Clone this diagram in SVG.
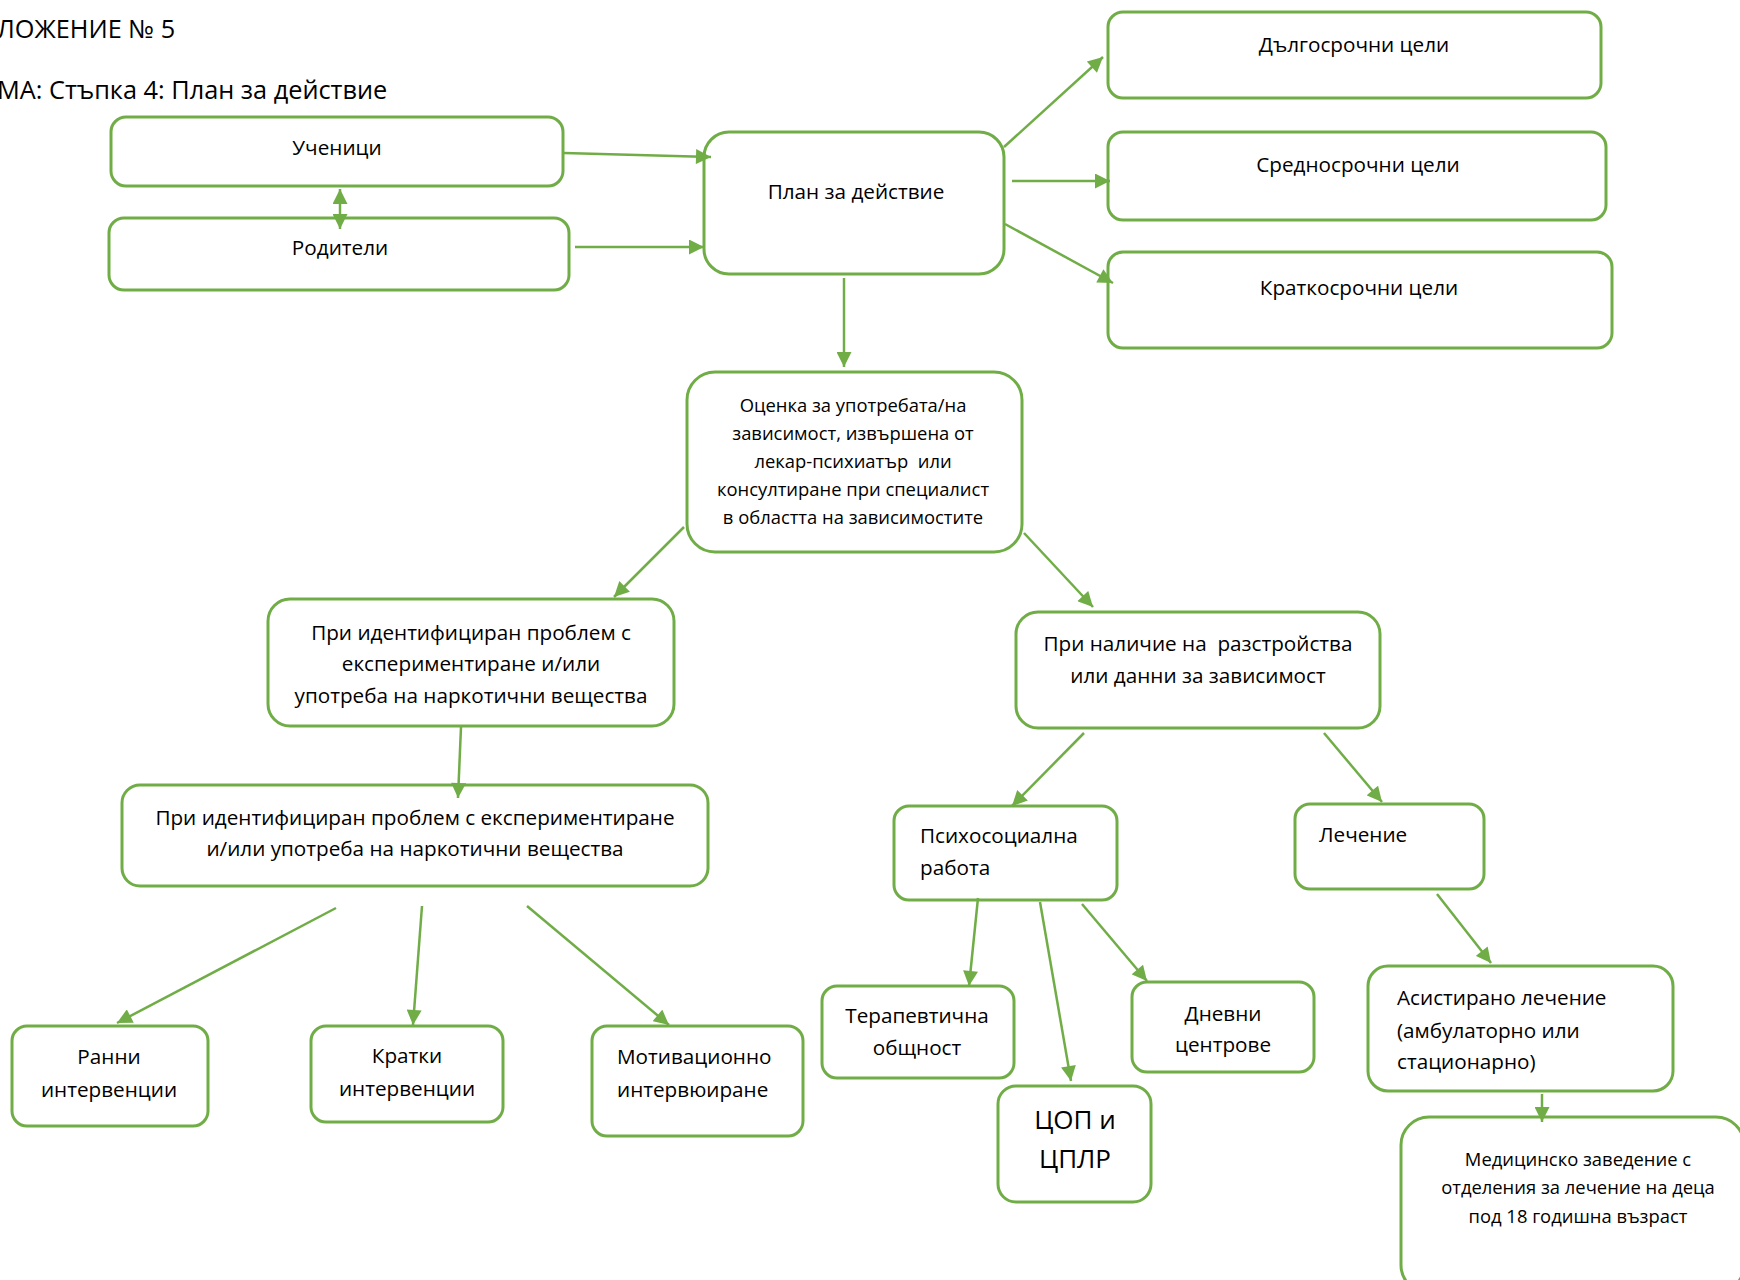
<svg xmlns="http://www.w3.org/2000/svg" width="1740" height="1280" viewBox="0 0 1740 1280">
<style>
.n{fill:#fff;stroke:#70AD47;stroke-width:3}
.c{fill:none;stroke:#70AD47;stroke-width:2.5;marker-end:url(#ah)}
text{font-family:"Open Sans","Noto Sans","DejaVu Sans",sans-serif;fill:#000}
.t{font-size:20.7px}
.m{text-anchor:middle}
.s{font-size:18.4px}
.b{font-size:26px}
.h{font-size:25.3px}
</style>
<defs>
<marker id="ah" viewBox="0 0 10 10" refX="10" refY="5" markerWidth="16" markerHeight="15" markerUnits="userSpaceOnUse" orient="auto-start-reverse">
<path d="M0,0 L10,5 L0,10 z" fill="#70AD47"/>
</marker>
</defs>
<rect width="1740" height="1280" fill="#fff"/>
<text class="h" x="-3" y="38">ЛОЖЕНИЕ № 5</text>
<text class="h" x="-3" y="99">МА: Стъпка 4: План за действие</text>

<g id="uchenitsi"><rect class="n" x="111" y="117" width="452" height="69" rx="15"/><text class="t m" x="337" y="155">Ученици</text></g>
<g id="roditeli"><rect class="n" x="109" y="218" width="460" height="72" rx="15"/><text class="t m" x="340" y="255">Родители</text></g>
<g id="plan"><rect class="n" x="704" y="132" width="300" height="142" rx="25"/><text class="t m" x="856" y="199">План за действие</text></g>
<g id="dalgosrochni"><rect class="n" x="1108" y="12" width="493" height="86" rx="15"/><text class="t m" x="1354" y="52">Дългосрочни цели</text></g>
<g id="srednosrochni"><rect class="n" x="1108" y="132" width="498" height="88" rx="15"/><text class="t m" x="1358" y="172">Средносрочни цели</text></g>
<g id="kratkosrochni"><rect class="n" x="1108" y="252" width="504" height="96" rx="15"/><text class="t m" x="1359" y="295">Краткосрочни цели</text></g>
<g id="otsenka"><rect class="n" x="687" y="372" width="335" height="180" rx="28"/>
<text class="s m" x="853" y="412">Оценка за употребата/на</text>
<text class="s m" x="853" y="440">зависимост, извършена от</text>
<text class="s m" x="853" y="468" xml:space="preserve">лекар-психиатър  или</text>
<text class="s m" x="853" y="496">консултиране при специалист</text>
<text class="s m" x="853" y="524">в областта на зависимостите</text></g>
<g id="pri-identifitsiran-1"><rect class="n" x="268" y="599" width="406" height="127" rx="22"/>
<text class="t m" x="471" y="640">При идентифициран проблем с</text>
<text class="t m" x="471" y="671">експериментиране и/или</text>
<text class="t m" x="471" y="703">употреба на наркотични вещества</text></g>
<g id="pri-identifitsiran-2"><rect class="n" x="122" y="785" width="586" height="101" rx="18"/>
<text class="t m" x="415" y="825">При идентифициран проблем с експериментиране</text>
<text class="t m" x="415" y="856">и/или употреба на наркотични вещества</text></g>
<g id="pri-nalichie"><rect class="n" x="1016" y="612" width="364" height="116" rx="22"/>
<text class="t m" x="1198" y="651" xml:space="preserve">При наличие на  разстройства</text>
<text class="t m" x="1198" y="683">или данни за зависимост</text></g>
<g id="psihosotsialna"><rect class="n" x="894" y="806" width="223" height="94" rx="15"/>
<text class="t" x="920" y="843">Психосоциална</text>
<text class="t" x="920" y="875">работа</text></g>
<g id="lechenie"><rect class="n" x="1295" y="804" width="189" height="85" rx="15"/>
<text class="t" x="1319" y="842">Лечение</text></g>
<g id="ranni"><rect class="n" x="12" y="1026" width="196" height="100" rx="15"/>
<text class="t m" x="109" y="1064">Ранни</text>
<text class="t m" x="109" y="1097">интервенции</text></g>
<g id="kratki"><rect class="n" x="311" y="1026" width="192" height="96" rx="15"/>
<text class="t m" x="407" y="1063">Кратки</text>
<text class="t m" x="407" y="1096">интервенции</text></g>
<g id="motivatsionno"><rect class="n" x="592" y="1026" width="211" height="110" rx="15"/>
<text class="t" x="617" y="1064">Мотивационно</text>
<text class="t" x="617" y="1097">интервюиране</text></g>
<g id="terapevtichna"><rect class="n" x="822" y="986" width="192" height="92" rx="15"/>
<text class="t m" x="917" y="1023">Терапевтична</text>
<text class="t m" x="917" y="1055">общност</text></g>
<g id="tsop"><rect class="n" x="998" y="1086" width="153" height="116" rx="18"/>
<text class="b m" x="1075" y="1129">ЦОП и</text>
<text class="b m" x="1075" y="1168">ЦПЛР</text></g>
<g id="dnevni"><rect class="n" x="1132" y="982" width="182" height="90" rx="15"/>
<text class="t m" x="1223" y="1021">Дневни</text>
<text class="t m" x="1223" y="1052">центрове</text></g>
<g id="asistirano"><rect class="n" x="1368" y="966" width="305" height="125" rx="20"/>
<text class="t" x="1397" y="1005">Асистирано лечение</text>
<text class="t" x="1397" y="1038">(амбулаторно или</text>
<text class="t" x="1397" y="1069">стационарно)</text></g>
<g id="meditsinsko"><rect class="n" x="1401" y="1117" width="343" height="176" rx="28"/>
<text class="s m" x="1578" y="1166">Медицинско заведение с</text>
<text class="s m" x="1578" y="1194">отделения за лечение на деца</text>
<text class="s m" x="1578" y="1223">под 18 годишна възраст</text></g>

<g id="connectors">
<line class="c" x1="564" y1="153" x2="711" y2="157"/>
<line class="c" x1="575" y1="247" x2="704" y2="247"/>
<line class="c" x1="340" y1="189" x2="340" y2="229" marker-start="url(#ah)"/>
<line class="c" x1="1004" y1="147" x2="1103" y2="57"/>
<line class="c" x1="1012" y1="181" x2="1110" y2="181"/>
<line class="c" x1="1005" y1="224" x2="1113" y2="283"/>
<line class="c" x1="844" y1="278" x2="844" y2="367"/>
<line class="c" x1="684" y1="527" x2="614" y2="597"/>
<line class="c" x1="1024" y1="533" x2="1093" y2="607"/>
<line class="c" x1="461" y1="727" x2="458" y2="798"/>
<line class="c" x1="336" y1="908" x2="117" y2="1023"/>
<line class="c" x1="422" y1="906" x2="413" y2="1025"/>
<line class="c" x1="527" y1="906" x2="669" y2="1025"/>
<line class="c" x1="1084" y1="733" x2="1012" y2="806"/>
<line class="c" x1="1324" y1="733" x2="1382" y2="802"/>
<line class="c" x1="978" y1="898" x2="969" y2="986"/>
<line class="c" x1="1040" y1="902" x2="1071" y2="1081"/>
<line class="c" x1="1082" y1="904" x2="1147" y2="981"/>
<line class="c" x1="1437" y1="894" x2="1491" y2="963"/>
<line class="c" x1="1542" y1="1094" x2="1542" y2="1122"/>
</g>
</svg>
